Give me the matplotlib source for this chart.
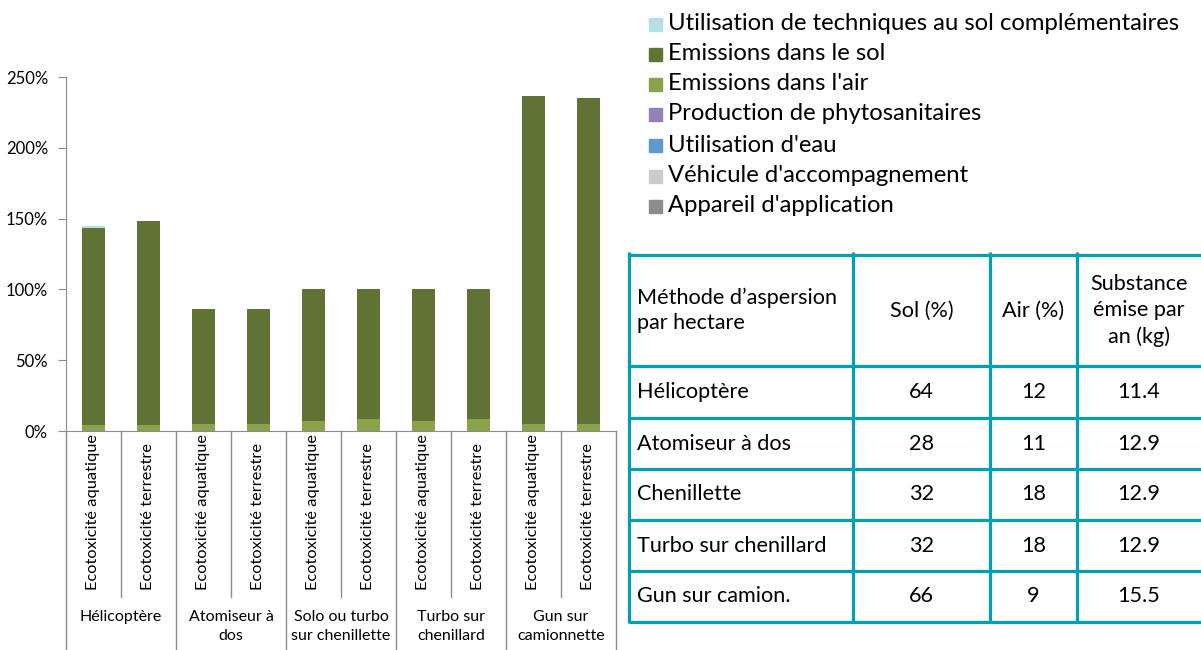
import matplotlib.pyplot as plt
from matplotlib.transforms import blended_transform_factory
from matplotlib.patches import Rectangle

plt.rcParams['font.family'] = ['Lato', 'DejaVu Sans']

# données du graphique (%)
groupes = ['Hélicoptère', 'Atomiseur à\ndos', 'Solo ou turbo\nsur chenillette',
           'Turbo sur\nchenillard', 'Gun sur\ncamionnette']
sous_cats = ['Ecotoxicité aquatique', 'Ecotoxicité terrestre']

appareil = [0, 0, 0, 0, 0, 0, 0, 0, 0, 0]
vehicule = [0, 0, 0, 0, 0, 0, 0, 0, 0, 0]
eau = [0, 0, 0, 0, 0, 0, 0, 0, 0, 0]
production = [0, 0, 0, 0, 0, 0, 0, 0, 0, 0]
em_air = [4.2, 4.2, 5.2, 5.2, 7.3, 8.3, 7.3, 8.3, 5.2, 5.2]
em_sol = [139.4, 143.9, 80.9, 80.9, 92.7, 91.7, 92.7, 91.7, 231.4, 229.9]
tech_sol = [1.4, 0, 0, 0, 0, 0, 0, 0, 0, 0]

series = [
    ("Appareil d'application", appareil, '#8c8c8c'),
    ("Véhicule d'accompagnement", vehicule, '#cccccc'),
    ("Utilisation d'eau", eau, '#5f97cf'),
    ("Production de phytosanitaires", production, '#9580bb'),
    ("Emissions dans l'air", em_air, '#8aa24b'),
    ("Emissions dans le sol", em_sol, '#617334'),
    ("Utilisation de techniques au sol complémentaires", tech_sol, '#b8dfe9'),
]

# tableau
t_entetes = ['Méthode d’aspersion\npar hectare', 'Sol (%)', 'Air (%)', 'Substance\némise par\nan (kg)']
t_methodes = ['Hélicoptère', 'Atomiseur à dos', 'Chenillette', 'Turbo sur chenillard', 'Gun sur camion.']
t_sol = ['64', '28', '32', '32', '66']
t_air = ['12', '11', '18', '18', '9']
t_substance = ['11.4', '12.9', '12.9', '12.9', '15.5']

W, H = 1201, 650
fig = plt.figure(figsize=(W / 100, H / 100), dpi=100)

# calque en pixels pour le texte et le tableau
ov = fig.add_axes([0, 0, 1, 1])
ov.set_xlim(0, W)
ov.set_ylim(H, 0)
ov.axis('off')

ax = fig.add_axes([66 / W, (H - 431) / H, 550 / W, 354 / H])
n = len(em_sol)
x = list(range(n))
bas = [0] * n
for nom, vals, c in series:
    ax.bar(x, vals, width=0.41, bottom=bas, color=c, label=nom, zorder=2)
    bas = [b + v for b, v in zip(bas, vals)]

ax.set_xlim(-0.5, n - 0.5)
ax.set_ylim(0, 250)
ax.set_yticks(range(0, 251, 50))
ax.set_yticklabels(['%d%%' % v for v in range(0, 251, 50)])
ax.set_xticks([])
for s in ['top', 'right']:
    ax.spines[s].set_visible(False)
for s in ['left', 'bottom']:
    ax.spines[s].set_color('#8c8c8c')
ax.tick_params(axis='y', length=6, color='#8c8c8c', labelsize=12, pad=7)
ax.patch.set_alpha(0)

# axe des catégories à deux niveaux
tr = blended_transform_factory(ax.transData, ov.transData)
for i in range(n + 1):
    yb = 650 if i % 2 == 0 else 597
    ov.plot([i - 0.5, i - 0.5], [431, yb], color='#8c8c8c', lw=1, transform=tr, clip_on=False)
for i in range(n):
    ov.text(i, 590, sous_cats[i % 2], rotation=90, ha='center', va='bottom',
            fontsize=11.8, transform=tr)
for g, nom in enumerate(groupes):
    ov.text(2 * g + 0.5, 610, nom, ha='center', va='top', fontsize=11.5,
            linespacing=1.45, multialignment='center', transform=tr)

# légende
leg_y = [24, 54, 84, 114, 145, 176, 206]
for (nom, vals, c), yy in zip(series[::-1], leg_y):
    ov.add_patch(Rectangle((649, yy - 6.5), 13, 13, color=c))
    ov.text(668, yy, nom, va='center', ha='left', fontsize=17.2)

# tableau
teal = '#00a0ae'
col_x = [629, 853, 990, 1077, 1215]
row_y = [255, 366, 418, 469, 520, 571, 622]
for yy in row_y:
    ov.plot([629, 1215], [yy, yy], color=teal, lw=2.3, solid_capstyle='butt')
for xx in col_x[:-1]:
    ov.plot([xx, xx], [252, 623], color=teal, lw=2.3, solid_capstyle='butt')

fs = 15.6
hy = (row_y[0] + row_y[1]) / 2
ov.text(637, hy, t_entetes[0], ha='left', va='center', fontsize=fs, linespacing=1.3)
for j in range(1, 4):
    cx = (col_x[j] + min(col_x[j + 1], 1201)) / 2
    ov.text(cx, hy, t_entetes[j], ha='center', va='center', fontsize=fs,
            linespacing=1.4, multialignment='center')
for r in range(len(t_methodes)):
    cy = (row_y[r + 1] + row_y[r + 2]) / 2
    ov.text(637, cy, t_methodes[r], ha='left', va='center', fontsize=fs)
    for j, col in enumerate([t_sol, t_air, t_substance], start=1):
        cx = (col_x[j] + min(col_x[j + 1], 1201)) / 2
        ov.text(cx, cy, col[r], ha='center', va='center', fontsize=fs)

fig.savefig('out.png', dpi=100)
